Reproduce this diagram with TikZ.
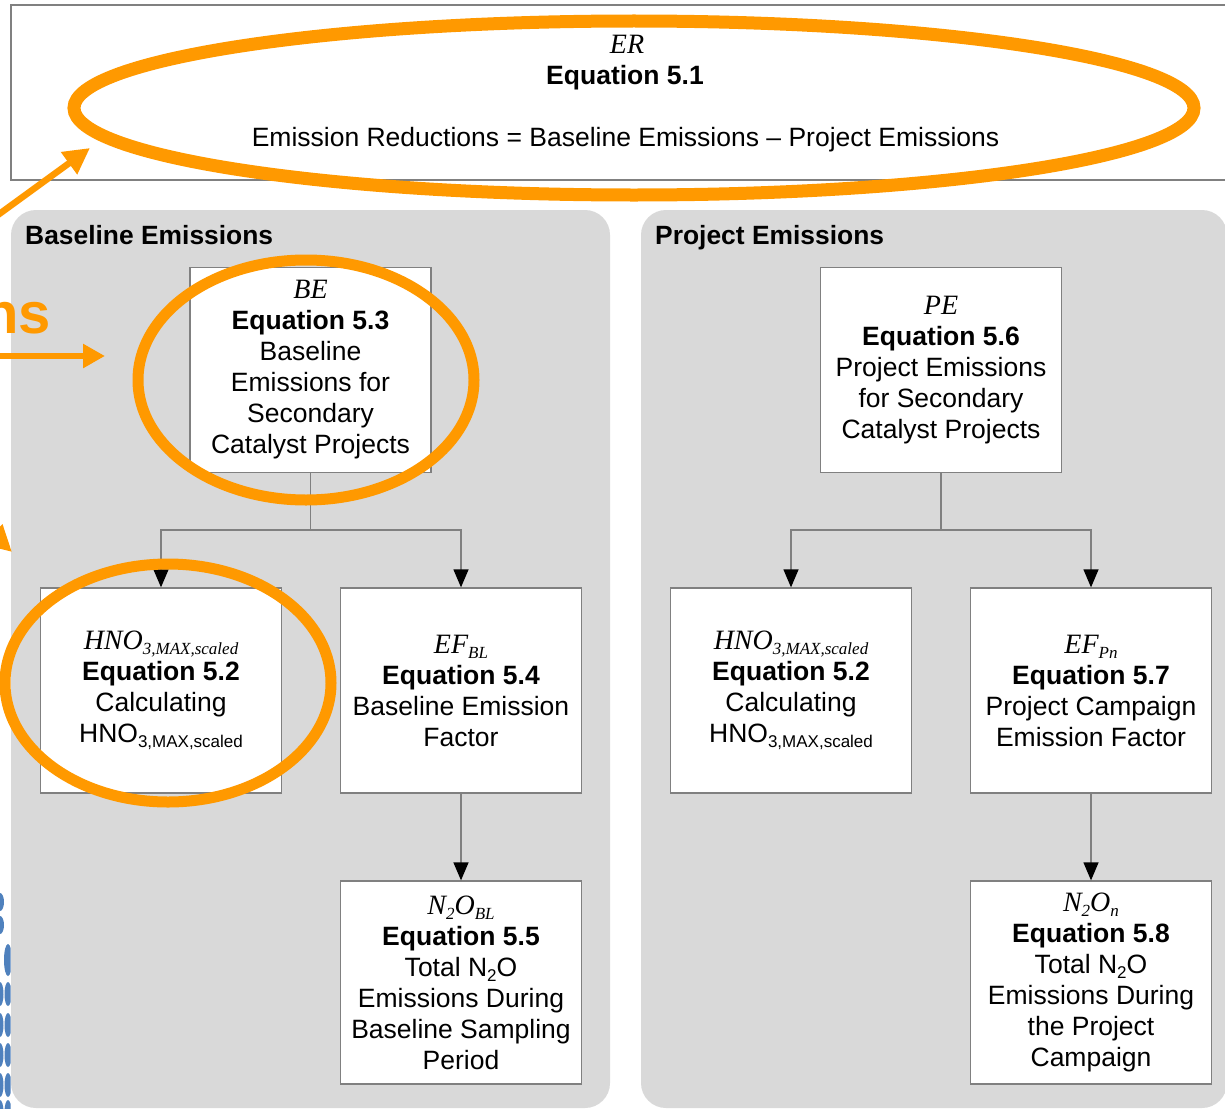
\documentclass[tikz,border=0pt]{standalone}
\usepackage{fontspec}
\setmainfont{Liberation Sans}
\newfontfamily\tms{Liberation Serif}
\usetikzlibrary{arrows.meta}
\definecolor{orng}{RGB}{255,153,0}
\definecolor{panelgray}{RGB}{217,217,217}
\definecolor{edgegray}{RGB}{128,128,128}
\definecolor{dotblue}{RGB}{79,129,189}
\newcommand\sbs[1]{\raisebox{-5pt}{\fontsize{17}{17}\selectfont #1}}
\newcommand\sbi[1]{\raisebox{-5pt}{\fontsize{17}{17}\selectfont #1}}
\newcommand\vi[1]{{\tms\itshape\fontsize{28}{31}\selectfont #1}}
\AtBeginDocument{\lineskiplimit=-20pt}
\begin{document}
\begin{tikzpicture}[x=1pt,y=-1pt,
  eqbox/.style={draw=edgegray, line width=1.3pt, fill=white, minimum width=241pt, minimum height=205pt, align=center, inner sep=0pt, font=\fontsize{26.5}{31}\selectfont},
  plain/.style={inner sep=0pt, font=\fontsize{26.5}{31}\selectfont},
  conn/.style={draw=edgegray, line width=1.3pt},
  arr/.style={conn, -{Triangle[length=18pt,width=15pt,color=black]}},
  hl/.style={draw=orng, line width=11pt},
  oarr/.style={draw=orng, line width=6.5pt, -{Triangle[length=26pt,width=26pt]}},
]
\useasboundingbox (0,0) rectangle (1225,1108);
\clip (0,0) rectangle (1225,1108);
\fill[white] (0,0) rectangle (1225,1108);

% panels
\fill[panelgray, rounded corners=25pt] (11,210) rectangle (610,1108);
\fill[panelgray, rounded corners=25pt] (641,210) rectangle (1227,1108);
\node[plain, anchor=base west, font=\fontsize{26.4}{31}\selectfont\bfseries] (blt) at (25,244) {Baseline Emissions};
\node[plain, anchor=base west, font=\fontsize{26.4}{31}\selectfont\bfseries] (pjt) at (655,244) {Project Emissions};

% top box
\node[draw=edgegray, line width=1.3pt, fill=white, minimum width=1229pt, minimum height=175pt, inner sep=0pt] (erbox) at (625.5,92.5) {};
\node[plain, anchor=base] (ervar) at (627,53) {\vi{ER}};
\node[plain, anchor=base, font=\fontsize{26.5}{31}\selectfont\bfseries] (ereq) at (625,84) {Equation 5.1};
\node[plain, anchor=base] (erdef) at (625.5,146) {Emission Reductions = Baseline Emissions – Project Emissions};

% boxes
\node[eqbox] (be) at (310.5,370) {\vi{BE}\\ \textbf{Equation 5.3}\\ Baseline\\ Emissions for\\ Secondary\\ Catalyst Projects};
\node[eqbox] (hnoL) at (161,690.5) {\vi{HNO\sbi{3,MAX,scaled}}\\ \textbf{Equation 5.2}\\ Calculating\\ HNO\sbs{3,MAX,scaled}};
\node[eqbox] (efbl) at (461,690.5) {\vi{EF\sbi{BL}}\\ \textbf{Equation 5.4}\\ Baseline Emission\\ Factor};
\node[eqbox, minimum height=203pt] (nbl) at (461,982.5) {\vi{N\sbi{2}O\sbi{BL}}\\ \textbf{Equation 5.5}\\ Total N\sbs{2}O\\ Emissions During\\ Baseline Sampling\\ Period};
\node[eqbox] (pe) at (941,370) {\vi{PE}\\ \textbf{Equation 5.6}\\ Project Emissions\\ for Secondary\\ Catalyst Projects};
\node[eqbox] (hnoR) at (791,690.5) {\vi{HNO\sbi{3,MAX,scaled}}\\ \textbf{Equation 5.2}\\ Calculating\\ HNO\sbs{3,MAX,scaled}};
\node[eqbox] (efpn) at (1091,690.5) {\vi{EF\sbi{Pn}}\\ \textbf{Equation 5.7}\\ Project Campaign\\ Emission Factor};
\node[eqbox, minimum height=203pt] (nn) at (1091,982.5) {\vi{N\sbi{2}O\sbi{n}}\\ \textbf{Equation 5.8}\\ Total N\sbs{2}O\\ Emissions During\\ the Project\\ Campaign};

% connectors
\coordinate (bej) at (310.5,530);
\coordinate (pej) at (941,530);
\draw[conn] (be.south) -- (bej);
\draw[arr] (bej) -| (hnoL.north);
\draw[arr] (bej) -| (efbl.north);
\draw[arr] (efbl.south) -- (nbl.north);
\draw[conn] (pe.south) -- (pej);
\draw[arr] (pej) -| (hnoR.north);
\draw[arr] (pej) -| (efpn.north);
\draw[arr] (efpn.south) -- (nn.north);

% orange highlights
\draw[hl, line width=13pt] (634,108) ellipse [x radius=560pt, y radius=87pt];
\draw[hl] (306,380) ellipse [x radius=168pt, y radius=120pt];
\draw[hl] (168,683) ellipse [x radius=163pt, y radius=119pt];
\node[inner sep=0pt, anchor=base east, text=orng, font=\fontsize{58}{60}\selectfont\bfseries] (ns) at (51,333) {ns};
\coordinate (a1s) at (-20,228);
\coordinate (a1e) at (90,148);
\draw[oarr] (a1s) -- (a1e);
\coordinate (a2s) at (-20,356);
\coordinate (a2e) at (105,356);
\draw[oarr, -{Triangle[length=22pt,width=23pt]}] (a2s) -- (a2e);
\coordinate (a3s) at (-60,485);
\coordinate (a3e) at (12,552);
\draw[oarr] (a3s) -- (a3e);

% blue dots at left edge
\begin{scope}
\clip (0,880) rectangle (10.5,1108);
\foreach \yy in {902,925} \fill[dotblue] (0,\yy) ellipse [x radius=4pt, y radius=9pt];
\foreach \yy in {960} \fill[dotblue] (8,\yy) ellipse [x radius=4pt, y radius=16pt];
\foreach \yy in {994,1025,1055,1085,1112} {
  \fill[dotblue] (0,\yy) ellipse [x radius=3.5pt, y radius=12pt];
  \fill[dotblue] (8,\yy) ellipse [x radius=3.5pt, y radius=12pt];
}
\end{scope}
\end{tikzpicture}
\end{document}
